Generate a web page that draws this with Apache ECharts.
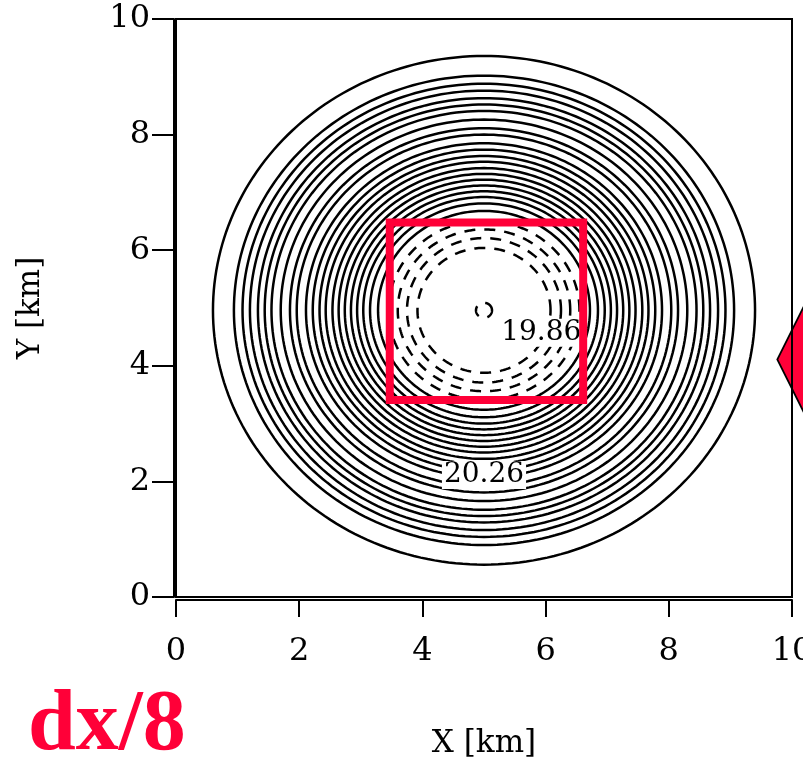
<!DOCTYPE html>
<html>
<head>
<meta charset="utf-8">
<script src="https://cdn.jsdelivr.net/npm/echarts@6/dist/echarts.min.js"></script>
<style>html,body{margin:0;padding:0;background:#fff;}#c{width:803px;height:759px;}</style>
</head>
<body>
<div id="c"></div>
<script>
// ---- data ----
const xTicks = [0, 2, 4, 6, 8, 10];
const yTicks = [0, 2, 4, 6, 8, 10];
const centerX = 5.0;
const centerY = 4.96;
// contour radii (km) around the centre
const ringRadii = [0.13, 1.08, 1.25, 1.40, 1.55, 1.72, 1.85, 1.96, 2.06, 2.16, 2.26, 2.36, 2.46, 2.57, 2.67, 2.78, 2.89, 3.04, 3.15, 3.30, 3.45, 3.56, 3.67, 3.80, 3.92, 4.06, 4.40];
// contour labels
const labelX = [5.93, 5.0];
const labelY = [4.57, 2.11];
const labelText = ['19.86', '20.26'];
// red square (closed path)
const squareX = [3.47, 6.61, 6.61, 3.47, 3.47];
const squareY = [3.41, 3.41, 6.48, 6.48, 3.41];
// red diamond marker
const diamondX = [10.33];
const diamondY = [4.11];
const caption = 'dx/8';

const RED = '#ff0038';
const FONT = 'DejaVu Serif';

const chart = echarts.init(document.getElementById('c'), null, {renderer: 'canvas'});

const option = {
  animation: false,
  backgroundColor: '#fff',
  grid: {left: 176, right: 11, top: 19, bottom: 162, show: true, borderColor: '#000', borderWidth: 2,
         backgroundColor: 'transparent', z: 10, containLabel: false, outerBoundsMode: 'none'},
  xAxis: {
    type: 'value', min: xTicks[0], max: xTicks[xTicks.length - 1], interval: 2,
    offset: 3,
    axisLine: {show: true, onZero: false, lineStyle: {color: '#000', width: 2}},
    axisTick: {show: true, length: 17, lineStyle: {color: '#000', width: 2}},
    axisLabel: {color: '#000', fontFamily: FONT, fontSize: 32, margin: 36, showMaxLabel: true},
    splitLine: {show: false},
    name: 'X [km]', nameLocation: 'middle', nameGap: 128,
    nameTextStyle: {color: '#000', fontFamily: FONT, fontSize: 31}
  },
  yAxis: {
    type: 'value', min: yTicks[0], max: yTicks[yTicks.length - 1], interval: 2,
    offset: 2,
    axisLine: {show: true, onZero: false, lineStyle: {color: '#000', width: 2}},
    axisTick: {show: true, length: 22, lineStyle: {color: '#000', width: 2}},
    axisLabel: {color: '#000', fontFamily: FONT, fontSize: 32, margin: 24},
    splitLine: {show: false},
    name: 'Y [km]', nameLocation: 'middle', nameGap: 128,
    nameTextStyle: {color: '#000', fontFamily: FONT, fontSize: 31}
  },
  graphic: [{
    type: 'text', left: 28, top: 684, z: 100,
    style: {text: caption, fill: RED, font: 'bold 86px "Liberation Serif"'}
  }],
  series: [
    {
      type: 'custom',
      coordinateSystem: 'cartesian2d',
      clip: true,
      z: 1,
      data: ringRadii.map(r => [centerX, centerY, r]),
      encode: {x: 0, y: 1},
      renderItem: function (params, api) {
        const cx = api.value(0), cy = api.value(1), r = api.value(2);
        const pts = [];
        const n = 240;
        for (let i = 0; i <= n; i++) {
          const t = i / n * Math.PI * 2;
          pts.push(api.coord([cx + r * Math.cos(t), cy + r * Math.sin(t)]));
        }
        return {
          type: 'polyline',
          shape: {points: pts},
          style: {stroke: '#000', lineWidth: 2.5, fill: null, lineDash: r < 1.6 ? [11, 9] : null}
        };
      }
    },
    {
      type: 'scatter',
      z: 5,
      symbolSize: 0,
      itemStyle: {opacity: 1},
      data: labelText.map((t, i) => ({value: [labelX[i], labelY[i]], name: t})),
      label: {
        show: true, position: 'inside', formatter: p => p.name,
        color: '#000', opacity: 1, fontFamily: FONT, fontSize: 28,
        backgroundColor: '#fff', padding: [0, 2]
      }
    },
    {
      type: 'line',
      z: 8,
      symbol: 'none',
      data: squareX.map((x, i) => [x, squareY[i]]),
      lineStyle: {color: RED, width: 8, join: 'miter', cap: 'square', opacity: 1}
    },
    {
      type: 'scatter',
      z: 9,
      clip: false,
      symbol: 'diamond',
      symbolSize: [70, 140],
      itemStyle: {color: RED, borderColor: '#000', borderWidth: 2, opacity: 1},
      data: diamondX.map((x, i) => [x, diamondY[i]])
    }
  ]
};
chart.setOption(option);
</script>
</body>
</html>
